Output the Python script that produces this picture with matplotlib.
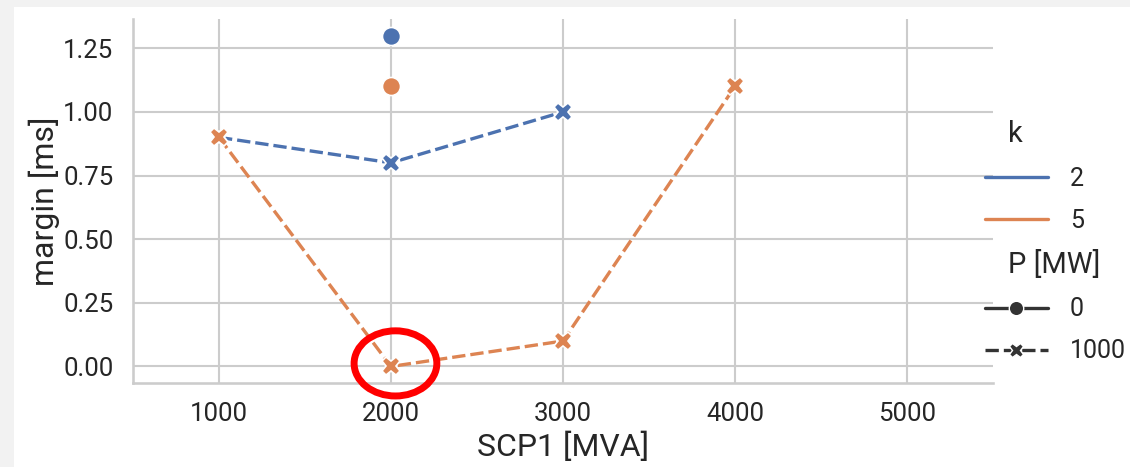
import matplotlib
matplotlib.use("Agg")
import matplotlib.pyplot as plt
import seaborn as sns
from matplotlib.lines import Line2D
from matplotlib.patches import Ellipse, Rectangle

# data
scp_k2 = [1000, 2000, 3000]
margin_k2 = [0.9, 0.8, 1.0]
scp_k5 = [1000, 2000, 3000, 4000]
margin_k5 = [0.9, 0.0, 0.1, 1.1]
scp_p0 = [2000, 2000]
margin_p0 = [1.3, 1.1]
k_p0 = [2, 5]

k_levels = [2, 5]
p_levels = [0, 1000]
x_ticks = [1000, 2000, 3000, 4000, 5000]
y_ticks = [0.0, 0.25, 0.5, 0.75, 1.0, 1.25]

sns.set_theme(style="whitegrid", context="talk")
plt.rcParams["font.family"] = ["Roboto", "DejaVu Sans"]

palette = sns.color_palette("deep")
colors = {2: palette[0], 5: palette[1]}
LW = 2.4
MS = 13
DASH = (4, 1.5)

fig = plt.figure(figsize=(11.3, 4.67), dpi=100)
fig.patch.set_facecolor("#f2f2f2")
fig.patches.append(Rectangle((14 / 1130, 0), 1, 1 - 7 / 467, transform=fig.transFigure,
                             facecolor="white", edgecolor="none", zorder=-10))
ax = fig.add_axes([133 / 1130, 1 - 383 / 467, 860 / 1130, 364 / 467])
ax.set_facecolor("white")

line_kw = dict(lw=LW, ms=MS, mec="w", mew=1.2)
ax.plot(scp_k2, margin_k2, color=colors[2], marker="X", dashes=DASH, **line_kw)
ax.plot(scp_k5, margin_k5, color=colors[5], marker="X", dashes=DASH, **line_kw)
for x, y, k in zip(scp_p0, margin_p0, k_p0):
    ax.plot([x], [y], color=colors[k], marker="o", linestyle="", **line_kw)

ax.set_xlim(500, 5500)
ax.set_ylim(-0.065, 1.365)
ax.set_xticks(x_ticks)
ax.set_yticks(y_ticks)
ax.set_yticklabels([f"{v:.2f}" for v in y_ticks])
ax.tick_params(axis="both", labelsize=18.5, colors="#262626", length=0)
ax.tick_params(axis="y", pad=14)
ax.tick_params(axis="x", pad=14)
ax.set_xlabel("SCP1 [MVA]", fontsize=23, color="#262626")
ax.set_ylabel("margin [ms]", fontsize=23, color="#262626")
ax.xaxis.set_label_coords(0.5, -0.135)
ax.yaxis.set_label_coords(-0.085, 0.5)
for side in ["top", "right"]:
    ax.spines[side].set_visible(False)
for side in ["left", "bottom"]:
    ax.spines[side].set_color("#cccccc")
ax.grid(True, color="#cccccc", lw=1.5)

# highlight ring
ell = Ellipse((2026, 0.012), 481, 0.256, transform=ax.transData, fill=False,
              edgecolor="#ff0000", lw=5, clip_on=False, zorder=10)
ax.add_patch(ell)

# legend with seaborn-like subtitles
blank = Line2D([], [], linestyle="none")
handles = [blank,
           Line2D([], [], color=colors[2], lw=LW),
           Line2D([], [], color=colors[5], lw=LW),
           blank,
           Line2D([], [], color=".2", lw=LW, marker="o", ms=MS * 0.8, mec="w", mew=1.0),
           Line2D([], [], color=".2", lw=LW, marker="X", ms=MS * 0.8, mec="w", mew=1.0, dashes=DASH)]
labels = ["k"] + [str(k) for k in k_levels] + ["P [MW]"] + [str(p) for p in p_levels]
leg = ax.legend(handles, labels, loc="center left", bbox_to_anchor=(975 / 1130, 1 - 242 / 467),
                bbox_transform=fig.transFigure, frameon=False, fontsize=18, borderaxespad=0,
                handlelength=2.5, handletextpad=0.9, labelspacing=0.72)
for text in leg.get_texts():
    text.set_color("#262626")
for hpack in leg._legend_handle_box.get_children()[0].get_children():
    draw_area, text_area = hpack.get_children()
    txt = text_area.get_children()[0]
    if txt.get_text() in ("k", "P [MW]"):
        draw_area.set_width(0)
        txt.set_fontsize(21)

fig.savefig("out.png", dpi=100, facecolor=fig.get_facecolor())
